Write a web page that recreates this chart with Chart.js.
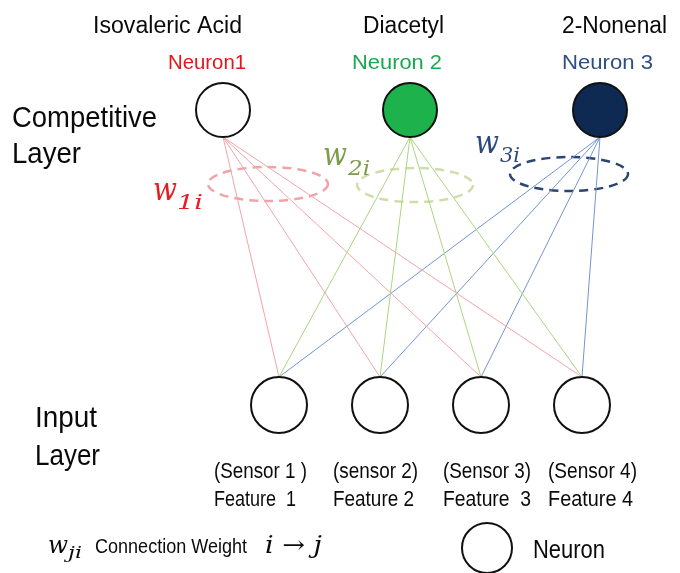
<!DOCTYPE html>
<html>
<head>
<meta charset="utf-8">
<style>
  html, body { margin: 0; padding: 0; background: #fff; }
  #wrap { width: 680px; height: 573px; }
</style>
<script src="https://cdn.jsdelivr.net/npm/chart.js@4.4.0/dist/chart.umd.min.js"></script>
</head>
<body>
<div id="wrap"><canvas id="net"></canvas></div>
<script>
'use strict';

// text
var compounds = ['Isovaleric Acid', 'Diacetyl', '2-Nonenal'];
var neuronNames = ['Neuron1', 'Neuron 2', 'Neuron 3'];
var sensorNames = ['(Sensor 1 )', '(sensor 2)', '(Sensor 3)', '(Sensor 4)'];
var featureNames = ['Feature  1', 'Feature 2', 'Feature  3', 'Feature 4'];
var weightSubs = ['1i', '2i', '3i'];

// layout, in axis units (axes run 0..680 and 0..573, so 1 unit = 1px)
var compX = [223, 410, 600], compY = 110, compR = 27;
var inputX = [279, 380, 481, 582], inputY = 405, inputR = 28;
var legendX = 487, legendY = 548, legendR = 25;

var neuronFill = ['#ffffff', '#1db24b', '#0e2a52'];
var neuronColor = ['#e8141c', '#17a94f', '#2f4f82'];
var weightColor = ['#e81c24', '#7c9c4a', '#2c4a7e'];
var wireColor = ['#f5a3aa', '#a9d67e', '#7394d2'];
var ringColor = ['#f2a3a6', '#d0ddaa', '#2a4570'];
var rings = [[268, 184, 60, 17], [415, 185, 58, 17], [569, 174, 59, 17]];

var SANS = '"Liberation Sans", Arial, sans-serif';
var SERIF = '"DejaVu Serif", serif';
var INK = '#0a0a0a';

var datasets = [];
compX.forEach(function (cx, j) {
  inputX.forEach(function (ix) {
    datasets.push({
      data: [{x: cx, y: compY + compR}, {x: ix, y: inputY - inputR}],
      showLine: true,
      borderColor: wireColor[j],
      borderWidth: 1,
      pointRadius: 0,
      order: 2,
      clip: false
    });
  });
});
datasets.push({
  data: compX.map(function (x) { return {x: x, y: compY}; }),
  pointRadius: compR,
  pointBackgroundColor: neuronFill,
  pointBorderColor: '#111',
  pointBorderWidth: 2,
  order: 1,
  clip: false
});
datasets.push({
  data: inputX.map(function (x) { return {x: x, y: inputY}; }),
  pointRadius: inputR,
  pointBackgroundColor: '#fff',
  pointBorderColor: '#111',
  pointBorderWidth: 2,
  order: 1,
  clip: false
});
datasets.push({
  data: [{x: legendX, y: legendY}],
  pointRadius: legendR,
  pointBackgroundColor: '#fff',
  pointBorderColor: '#111',
  pointBorderWidth: 2,
  order: 1,
  clip: false
});

// draws left-aligned text, squeezed to a given width when asked
function put(ctx, txt, x, y, font, color, w) {
  ctx.save();
  ctx.font = font;
  ctx.fillStyle = color;
  ctx.textAlign = 'left';
  ctx.textBaseline = 'alphabetic';
  var m = ctx.measureText(txt).width;
  ctx.translate(x, y);
  if (w) ctx.scale(w / m, 1);
  ctx.fillText(txt, 0, 0);
  ctx.restore();
}

var rings_plugin = {
  id: 'rings',
  beforeDatasetsDraw: function (chart) {
    var ctx = chart.ctx, sx = chart.scales.x, sy = chart.scales.y;
    rings.forEach(function (r, j) {
      ctx.save();
      ctx.strokeStyle = ringColor[j];
      ctx.lineWidth = 2.5;
      ctx.setLineDash([9, 6]);
      ctx.beginPath();
      ctx.ellipse(sx.getPixelForValue(r[0]), sy.getPixelForValue(r[1]), r[2], r[3], 0, 0, Math.PI * 2);
      ctx.stroke();
      ctx.restore();
    });
  }
};

var labels_plugin = {
  id: 'labels',
  afterDraw: function (chart) {
    var ctx = chart.ctx, sx = chart.scales.x, sy = chart.scales.y;
    function P(x, y) { return [sx.getPixelForValue(x), sy.getPixelForValue(y)]; }
    var p;

    var compLeft = [93, 363, 562], compW = [149, 81, 105];
    compounds.forEach(function (t, j) {
      p = P(compLeft[j], 33);
      put(ctx, t, p[0], p[1], '23px ' + SANS, INK, compW[j]);
    });
    var nLeft = [168, 352, 562], nW = [78, 90, 91];
    neuronNames.forEach(function (t, j) {
      p = P(nLeft[j], 69);
      put(ctx, t, p[0], p[1], '21px ' + SANS, neuronColor[j], nW[j]);
    });

    p = P(12, 127); put(ctx, 'Competitive', p[0], p[1], '30px ' + SANS, INK, 145);
    p = P(12, 163); put(ctx, 'Layer', p[0], p[1], '30px ' + SANS, INK, 69);
    p = P(35, 427); put(ctx, 'Input', p[0], p[1], '30px ' + SANS, INK, 62);
    p = P(35, 465); put(ctx, 'Layer', p[0], p[1], '30px ' + SANS, INK, 65);

    var sLeft = [214, 333, 443, 548], sW = [93, 85, 88, 89], fW = [82, 81, 88, 85];
    sensorNames.forEach(function (t, i) {
      p = P(sLeft[i], 478);
      put(ctx, t, p[0], p[1], '22px ' + SANS, INK, sW[i]);
      p = P(sLeft[i], 506);
      put(ctx, featureNames[i], p[0], p[1], '22px ' + SANS, INK, fW[i]);
    });

    // w_ji labels next to the dashed rings
    var wX = [153, 323, 475], wY = [200, 165, 153];
    var subX = [177, 348, 500], subY = [209, 175, 162], subW = [26, 22, 20];
    weightSubs.forEach(function (s, j) {
      p = P(wX[j], wY[j]);
      put(ctx, 'w', p[0], p[1], 'italic 32px ' + SERIF, weightColor[j], 24);
      p = P(subX[j], subY[j]);
      put(ctx, s, p[0], p[1], 'italic 21px ' + SERIF, weightColor[j], subW[j]);
    });

    // bottom key
    p = P(48, 553); put(ctx, 'w', p[0], p[1], 'italic 25px ' + SERIF, INK, 20);
    p = P(68, 558); put(ctx, 'ji', p[0], p[1], 'italic 17px ' + SERIF, INK, 14);
    p = P(95, 553); put(ctx, 'Connection Weight', p[0], p[1], '20px ' + SANS, INK, 152);
    p = P(265, 553); put(ctx, 'i \u2192 j', p[0], p[1], 'italic 24px ' + SERIF, INK, 57);
    p = P(533, 558); put(ctx, 'Neuron', p[0], p[1], '25px ' + SANS, INK, 72);
  }
};

var net = new Chart(document.getElementById('net'), {
  type: 'scatter',
  data: {datasets: datasets},
  options: {
    responsive: true,
    maintainAspectRatio: false,
    animation: false,
    layout: {padding: 0, autoPadding: false},
    plugins: {legend: {display: false}, tooltip: {enabled: false}},
    scales: {
      x: {type: 'linear', min: 0, max: 680, display: false},
      y: {type: 'linear', min: 0, max: 573, reverse: true, display: false}
    }
  },
  plugins: [rings_plugin, labels_plugin]
});
</script>
</body>
</html>
